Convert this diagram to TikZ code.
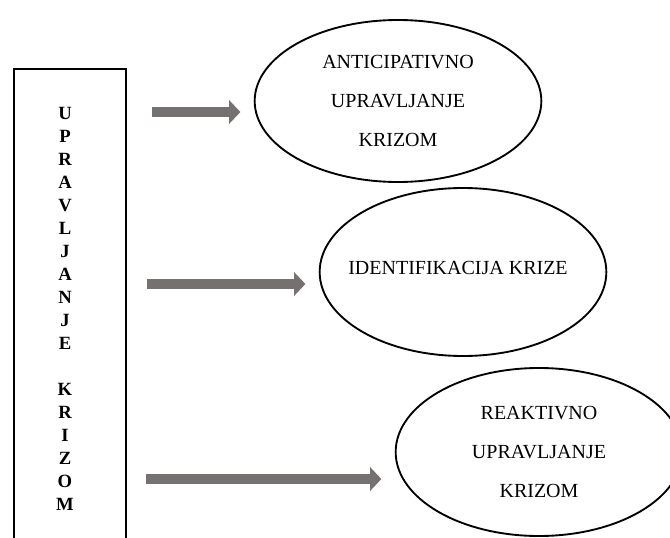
\documentclass[tikz,border=0pt]{standalone}
\usepackage{fontspec}
\setmainfont{Liberation Serif}
\usetikzlibrary{shapes.geometric,arrows.meta}
\definecolor{arrgray}{RGB}{118,113,113}
\begin{document}
\begin{tikzpicture}[x=0.75pt,y=-0.75pt,
    oval/.style={draw,ellipse,line width=1.4pt,minimum width=215pt,inner sep=0pt},
    ovaltext/.style={align=center,font=\fontsize{15}{29}\selectfont},
    bigarrow/.style={arrgray,line width=7.5pt,-{Triangle[length=8.5pt,width=17.5pt]},shorten >=10pt}]
    \useasboundingbox (0,0) rectangle (670,538);
    \clip (0,0) rectangle (670,538);
    \node[draw,line width=1.4pt,minimum width=84pt,minimum height=380pt,anchor=north west] (upr) at (13,68) {};
    \node[align=center,font=\bfseries\fontsize{14}{17.25}\selectfont] (uprtxt) at (65,309)
        {U\\P\\R\\A\\V\\L\\J\\A\\N\\J\\E\\[17.25pt]K\\R\\I\\Z\\O\\M};
    \node[oval,minimum height=121.5pt] (ell1) at (398,101) {};
    \node[oval,minimum height=126pt] (ell2) at (463,272) {};
    \node[oval,minimum height=126pt] (ell3) at (539,452) {};
    \node[ovaltext] (ell1txt) at (ell1) {ANTICIPATIVNO\\UPRAVLJANJE\\KRIZOM};
    \node[ovaltext] (ell2txt) at (458,268) {IDENTIFIKACIJA KRIZE};
    \node[ovaltext] (ell3txt) at (ell3) {REAKTIVNO\\UPRAVLJANJE\\KRIZOM};
    \coordinate (a1) at (152,112);
    \coordinate (a2) at (147,284);
    \coordinate (a3) at (146,479);
    \draw[bigarrow] (a1) -- (a1 -| ell1.west);
    \draw[bigarrow] (a2) -- (a2 -| ell2.west);
    \draw[bigarrow] (a3) -- (a3 -| ell3.west);
\end{tikzpicture}
\end{document}
